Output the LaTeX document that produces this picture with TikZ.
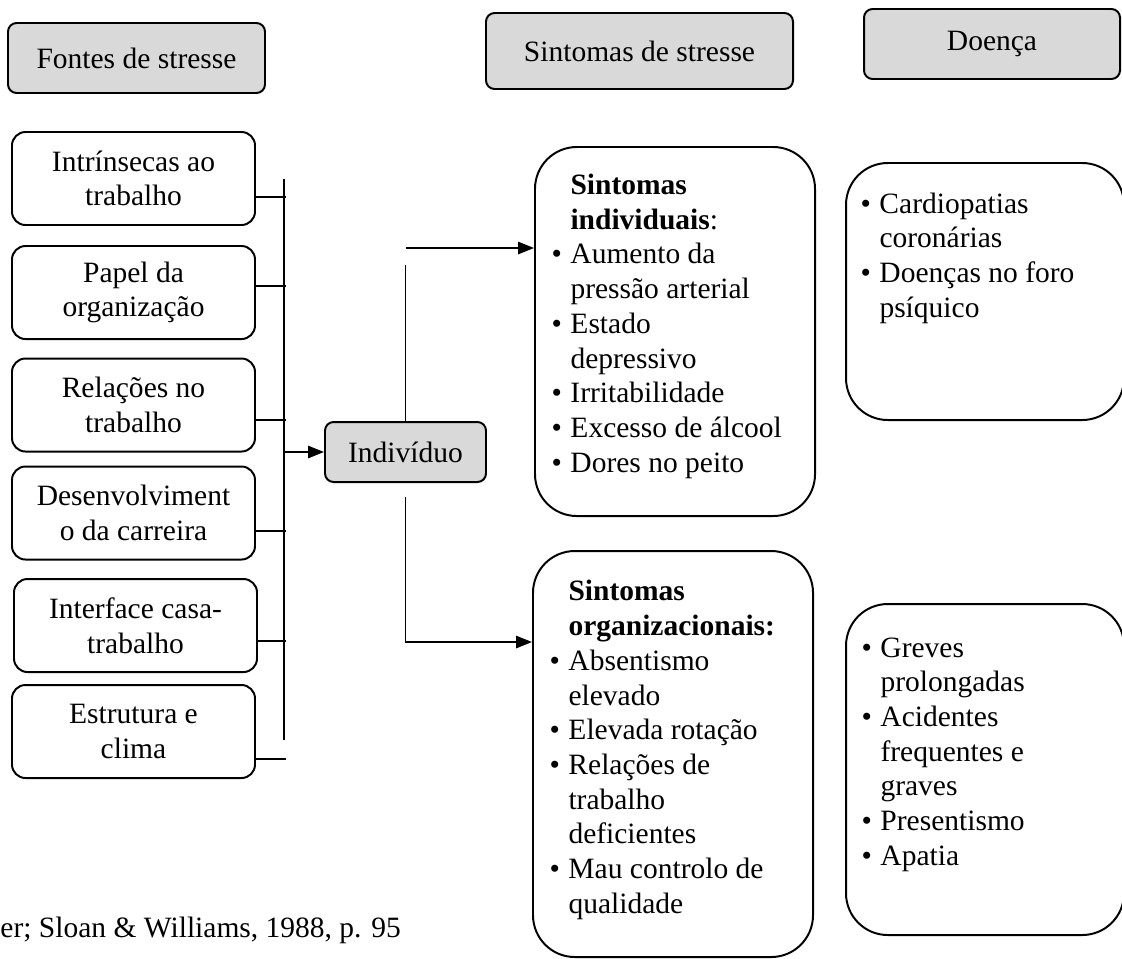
\documentclass[tikz,border=0pt]{standalone}
\usepackage{fontspec}
\setmainfont{Liberation Serif}
\usetikzlibrary{arrows.meta}

\definecolor{boxgray}{HTML}{D9D9D9}
\newcommand{\pxu}{0.4067pt}
\newcommand{\bul}{\llap{\textbullet\hspace{3.5pt}}}

\tikzset{
  txt/.style={font=\fontsize{12}{14.1}\selectfont},
  headbox/.style={txt, draw, line width=0.8pt, fill=boxgray, rounded corners=3.5pt, align=center, inner sep=0pt},
  srcbox/.style={txt, draw, line width=0.8pt, rounded corners=5.5pt, align=center, inner sep=0pt, minimum width=243*\pxu, minimum height=93*\pxu},
  symbox/.style={draw, line width=0.8pt, rounded corners=17pt, inner sep=0pt},
  listtxt/.style={txt, align=left, anchor=base west, inner sep=0pt},
  conn/.style={line width=0.8pt},
  arr/.style={line width=0.8pt, -{Triangle[length=6.5pt,width=5pt]}}
}

\begin{document}
\begin{tikzpicture}[x=0.4067pt, y=-0.4067pt]
	\useasboundingbox (0,0) rectangle (1122,958);

	% headings
	\node[headbox, minimum width=257*\pxu, minimum height=70*\pxu] (fontes) at (136.5,58) {Fontes de stresse};
	\node[headbox, minimum width=307*\pxu, minimum height=76*\pxu] (sintomas) at (639.5,51) {Sintomas de stresse};
	\node[headbox, minimum width=256*\pxu, minimum height=70*\pxu] (doenca) at (992,44) {Doença};

	% sources of stress
	\node[srcbox] (src1) at (133.5,178.5) {Intrínsecas ao\\trabalho};
	\node[srcbox] (src2) at (133.5,292.5) {Papel da\\organização};
	\node[srcbox] (src3) at (133.5,405) {Relações no\\trabalho};
	\node[srcbox] (src4) at (133.5,513) {Desenvolviment\\o da carreira};
	\node[srcbox] (src5) at (135.5,625.5) {Interface casa-\\trabalho};
	\node[srcbox] (src6) at (133.5,731.5) {Estrutura e\\clima};

	\node[headbox, minimum width=161*\pxu, minimum height=60*\pxu] (indiv) at (405.5,452) {Indivíduo};

	% symptom and disease boxes
	\node[symbox, minimum width=280*\pxu, minimum height=369*\pxu] (sintind) at (675,331.5) {};
	\node[symbox, minimum width=280*\pxu, minimum height=406*\pxu] (sintorg) at (673,754) {};
	\node[symbox, minimum width=278*\pxu, minimum height=257*\pxu] (doencaind) at (985,291.5) {};
	\node[symbox, minimum width=278*\pxu, minimum height=331*\pxu] (doencaorg) at (985,769.5) {};

	% lists, placed by the baseline of their last line
	\node[listtxt] (sintindtxt) at (570,472) {\textbf{Sintomas}\\\textbf{individuais}:\\\bul Aumento da\\pressão arterial\\\bul Estado\\depressivo\\\bul Irritabilidade\\\bul Excesso de álcool\\\bul Dores no peito};
	\node[listtxt] (sintorgtxt) at (568,913) {\textbf{Sintomas}\\\textbf{organizacionais:}\\\bul Absentismo\\elevado\\\bul Elevada rotação\\\bul Relações de\\trabalho\\deficientes\\\bul Mau controlo de\\qualidade};
	\node[listtxt] (doencaindtxt) at (879,317) {\bul Cardiopatias\\coronárias\\\bul Doenças no foro\\psíquico};
	\node[listtxt] (doencaorgtxt) at (880,865) {\bul Greves\\prolongadas\\\bul Acidentes\\frequentes e\\graves\\\bul Presentismo\\\bul Apatia};

	\node[txt, anchor=base west, inner sep=0pt] (fonte) at (0,937) {er; Sloan \& Williams, 1988, p. 95};

	% connectors
	\coordinate (bustop) at (284,179);
	\coordinate (busbot) at (284,740);
	\coordinate (busend) at (286,740);
	\draw[conn] (bustop) -- (busbot);
	\foreach \src/\dy in {src1/18.5, src2/-6.5, src3/15, src4/18, src5/15.5, src6/27.5}
		\draw[conn] ([shift={(0,\dy)}]\src.east) coordinate (jn) -- (jn -| busend);
	\draw[arr] (indiv.west -| bustop) -- (indiv.west);

	\coordinate (upin) at ([shift={(0,-83.5)}]sintind.west);
	\coordinate (upgap) at ([shift={(0,17)}]upin);
	\draw[conn] (indiv.north) -- (indiv.north |- upgap);
	\draw[arr] (upin -| indiv.north) -- (upin);

	\coordinate (lowin) at ([shift={(0,-112)}]sintorg.west);
	\draw[arr] ([shift={(0,14)}]indiv.south) |- (lowin);
\end{tikzpicture}
\end{document}
